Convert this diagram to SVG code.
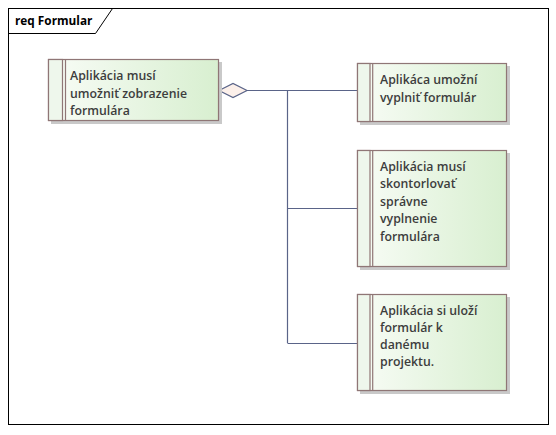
<svg xmlns="http://www.w3.org/2000/svg" width="556" height="435" viewBox="0 0 556 435">
<defs>
<linearGradient id="g" x1="0" y1="0" x2="1" y2="0">
<stop offset="0" stop-color="#f8fcf6"/>
<stop offset="1" stop-color="#d8efd0"/>
</linearGradient>
<style>
.shadow{fill:#c9c9c9}
.box{fill:url(#g);stroke:#8f7676;stroke-width:1.2}
.strip{fill:#eef7ec;stroke:#8f7676;stroke-width:1.2}
.t{font-family:"Open Sans","Noto Sans",sans-serif;font-weight:600;font-size:12.3px;fill:#3d3d3d}
.c{fill:none;stroke:#5a6488;stroke-width:1.2}
</style>
</defs>
<rect x="0" y="0" width="556" height="435" fill="#ffffff"/>
<g id="frame">
<rect x="8.5" y="8.5" width="540" height="416" fill="#ffffff" stroke="#000000" stroke-width="1"/>
<path d="M8.5 33.5 H95.5 L112.5 8.5" fill="none" stroke="#000000" stroke-width="1"/>
<text x="15" y="25" font-family="'Open Sans','Noto Sans',sans-serif" font-weight="700" font-size="11.8" fill="#000000">req Formular</text>
</g>
<g id="connectors">
<path class="c" d="M247 90.5 H288 M287.5 90 V343 M287.5 90.5 H357 M287.5 208.5 H357 M287.5 343.5 H357"/>
<path d="M219 90.5 L233 83.5 L247 90.5 L233 97.5 Z" fill="#fcf0ea" stroke="#5a6488" stroke-width="1.2"/>
</g>
<g id="node1">
<rect class="shadow" x="51" y="62" width="171" height="62"/>
<rect class="box" x="48.5" y="59.5" width="170" height="61"/>
<rect class="strip" x="48.5" y="59.5" width="14" height="61"/>
<line x1="65.5" y1="59.5" x2="65.5" y2="120.5" stroke="#8f7676" stroke-width="1.2"/>
<text class="t" x="70" y="80">Aplikácia musí</text>
<text class="t" x="70" y="97.5">umožniť zobrazenie</text>
<text class="t" x="70" y="115">formulára</text>
</g>
<g id="node2">
<rect class="shadow" x="360" y="66" width="150" height="59"/>
<rect class="box" x="357.5" y="63.5" width="149" height="58"/>
<rect class="strip" x="357.5" y="63.5" width="12.5" height="58"/>
<line x1="372.7" y1="63.5" x2="372.7" y2="121.5" stroke="#8f7676" stroke-width="1.2"/>
<text class="t" x="380" y="83.5">Aplikáca umožní</text>
<text class="t" x="380" y="101.5">vyplniť formulár</text>
</g>
<g id="node3">
<rect class="shadow" x="360" y="153" width="150" height="117"/>
<rect class="box" x="357.5" y="150.5" width="149" height="116"/>
<rect class="strip" x="357.5" y="150.5" width="12.5" height="116"/>
<line x1="372.7" y1="150.5" x2="372.7" y2="266.5" stroke="#8f7676" stroke-width="1.2"/>
<text class="t" x="380" y="170.5">Aplikácia musí</text>
<text class="t" x="380" y="188">skontorlovať</text>
<text class="t" x="380" y="205.5">správne</text>
<text class="t" x="380" y="223">vyplnenie</text>
<text class="t" x="380" y="240.5">formulára</text>
</g>
<g id="node4">
<rect class="shadow" x="360" y="297" width="150" height="97"/>
<rect class="box" x="357.5" y="294.5" width="149" height="96"/>
<rect class="strip" x="357.5" y="294.5" width="12.5" height="96"/>
<line x1="372.7" y1="294.5" x2="372.7" y2="390.5" stroke="#8f7676" stroke-width="1.2"/>
<text class="t" x="380" y="314.5">Aplikácia si uloží</text>
<text class="t" x="380" y="332">formulár k</text>
<text class="t" x="380" y="349">danému</text>
<text class="t" x="380" y="366">projektu.</text>
</g>
</svg>
